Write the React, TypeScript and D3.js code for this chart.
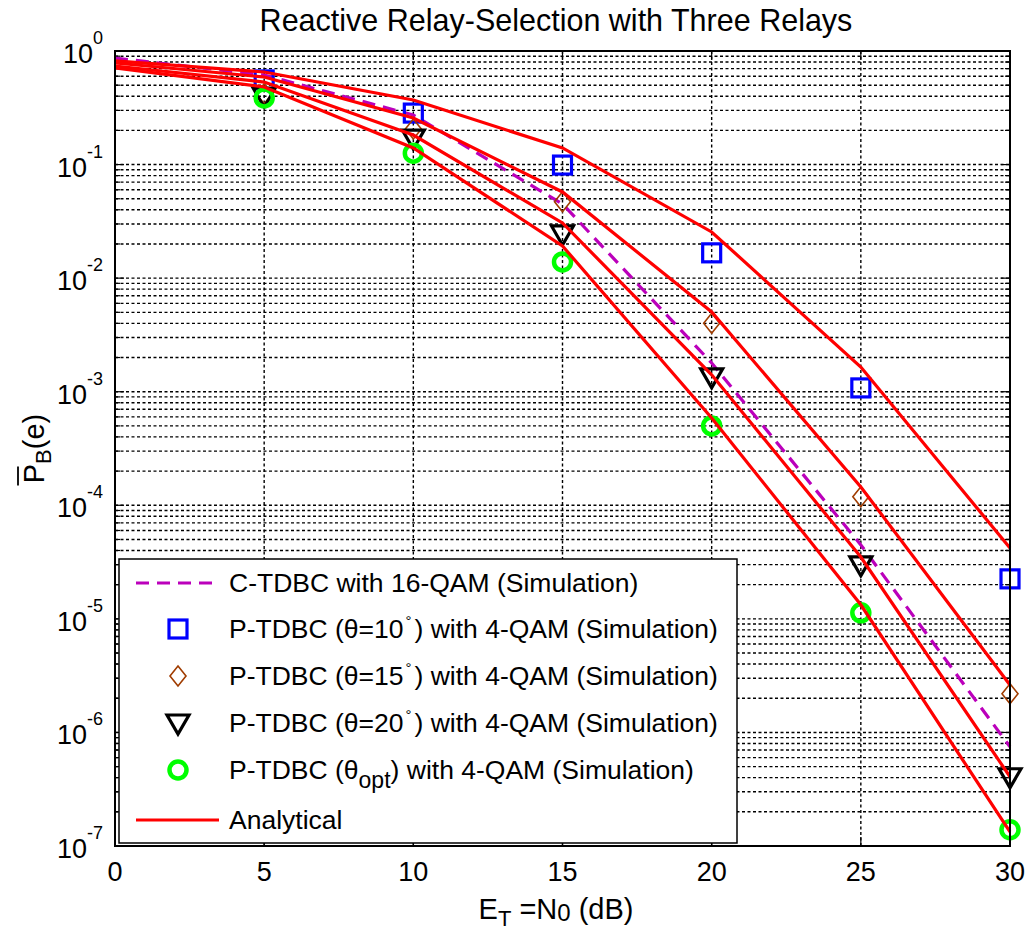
import React from 'react';
import * as d3 from 'd3';

// SNR points (dB)
const snr = [0, 5, 10, 15, 20, 25, 30];
const simSnr = [5, 10, 15, 20, 25, 30];

// C-TDBC 16-QAM simulation (dashed)
const ctdbc16 = [0.867, 0.615, 0.273, 0.045, 1.79e-3, 4.48e-5, 7.47e-7];

// P-TDBC 4-QAM simulation markers
const sim10 = [0.556, 0.284, 0.099, 0.0167, 1.08e-3, 2.25e-5];
const sim15 = [0.42, 0.206, 0.047, 4.0e-3, 1.19e-4, 2.19e-6];
const sim20 = [0.40, 0.171, 0.0245, 1.35e-3, 2.99e-5, 4.07e-7];
const simOpt = [0.386, 0.126, 0.0139, 5.0e-4, 1.13e-5, 1.39e-7];

// analytical curves
const ana10 = [0.817, 0.653, 0.37, 0.14, 0.0255, 1.65e-3, 4.2e-5];
const ana15 = [0.784, 0.59, 0.257, 0.0574, 5.04e-3, 1.45e-4, 2.62e-6];
const ana20 = [0.738, 0.533, 0.182, 0.0306, 1.41e-3, 3.5e-5, 4.07e-7];
const anaOpt = [0.709, 0.482, 0.14, 0.0192, 5.88e-4, 1.33e-5, 1.33e-7];

const xTicks = [0, 5, 10, 15, 20, 25, 30];
const yExps = [0, -1, -2, -3, -4, -5, -6, -7];

const W = 1027;
const H = 931;
const margin = { left: 115, right: 17, top: 51, bottom: 85 };
const FONT = 'Arial, "Liberation Sans", Helvetica, sans-serif';

const App = () => {
  const x = d3.scaleLinear().domain([0, 30]).range([margin.left, W - margin.right]);
  const y = d3.scaleLog().domain([1e-7, 1]).range([H - margin.bottom, margin.top]);
  const [x0, x1] = x.range();
  const [y0, y1] = y.range();

  const line = d3
    .line<number>()
    .x((_, i) => x(snr[i]))
    .y((d) => y(d));

  // minor + major horizontal grid values
  const gridY: number[] = [];
  for (let k = -7; k < 0; k++) {
    for (let m = 1; m <= 9; m++) gridY.push(m * Math.pow(10, k));
  }
  gridY.push(1);

  const red = '#ff0000';
  const blue = '#0000ff';
  const brown = '#a03c00';
  const green = '#00ff00';
  const magenta = '#bb00bb';

  const square = (cx: number, cy: number, key: any) => (
    <rect key={key} x={cx - 9} y={cy - 9} width={18} height={18} fill="none" stroke={blue} strokeWidth={3.2} />
  );
  const diamond = (cx: number, cy: number, key: any) => (
    <path key={key} d={`M${cx},${cy - 10}L${cx + 8},${cy}L${cx},${cy + 10}L${cx - 8},${cy}Z`} fill="none" stroke={brown} strokeWidth={1.6} />
  );
  const triangle = (cx: number, cy: number, key: any) => (
    <path key={key} d={`M${cx - 11},${cy - 8}L${cx + 11},${cy - 8}L${cx},${cy + 11}Z`} fill="none" stroke="#000" strokeWidth={3.2} strokeLinejoin="miter" />
  );
  const circle = (cx: number, cy: number, key: any) => (
    <circle key={key} cx={cx} cy={cy} r={8.5} fill="none" stroke={green} strokeWidth={4.5} />
  );

  const deg = (
    <>
      <tspan dx={2} dy={-12} fontSize={15}>°</tspan>
      <tspan dx={3} dy={12}>) with 4-QAM (Simulation)</tspan>
    </>
  );
  const legendItems = [
    { kind: 'dash', label: <>C-TDBC with 16-QAM (Simulation)</> },
    { kind: 'square', label: <>P-TDBC (θ=10{deg}</> },
    { kind: 'diamond', label: <>P-TDBC (θ=15{deg}</> },
    { kind: 'triangle', label: <>P-TDBC (θ=20{deg}</> },
    { kind: 'circle', label: <>P-TDBC (θ<tspan dy={9} fontSize={23}>opt</tspan><tspan dy={-9}>) with 4-QAM (Simulation)</tspan></> },
    { kind: 'line', label: <>Analytical</> },
  ];
  const legY = [583, 629, 676, 723, 770, 820];

  return (
    <svg width={W} height={H} style={{ position: 'absolute', left: 0, top: 0, background: '#fff' }} fontFamily={FONT}>
      <rect x={0} y={0} width={W} height={H} fill="#fff" />

      {/* grid */}
      <g stroke="#000" strokeWidth={1.4} strokeDasharray="3,2.5">
        {gridY.map((v, i) => (
          <line key={'gy' + i} x1={x0} x2={x1} y1={y(v)} y2={y(v)} />
        ))}
        {xTicks.slice(1, -1).map((t) => (
          <line key={'gx' + t} x1={x(t)} x2={x(t)} y1={y0} y2={y1} />
        ))}
      </g>

      {/* ticks */}
      <g stroke="#000" strokeWidth={1.2}>
        {gridY.map((v, i) => {
          const major = Math.abs(Math.log10(v) - Math.round(Math.log10(v))) < 1e-9;
          const len = major ? 9 : 5;
          return (
            <g key={'ty' + i}>
              <line x1={x0} x2={x0 + len} y1={y(v)} y2={y(v)} />
              <line x1={x1} x2={x1 - len} y1={y(v)} y2={y(v)} />
            </g>
          );
        })}
        {xTicks.map((t) => (
          <g key={'tx' + t}>
            <line x1={x(t)} x2={x(t)} y1={y0} y2={y0 - 9} />
            <line x1={x(t)} x2={x(t)} y1={y1} y2={y1 + 9} />
          </g>
        ))}
      </g>

      {/* C-TDBC dashed */}
      <path d={line(ctdbc16) || ''} fill="none" stroke={magenta} strokeWidth={3.2} strokeDasharray="13,8" />

      {/* markers */}
      <g>
        {sim10.map((v, i) => square(x(simSnr[i]), y(v), 's' + i))}
        {sim15.map((v, i) => diamond(x(simSnr[i]), y(v), 'd' + i))}
        {sim20.map((v, i) => triangle(x(simSnr[i]), y(v), 't' + i))}
        {simOpt.map((v, i) => circle(x(simSnr[i]), y(v), 'c' + i))}
      </g>

      {/* analytical */}
      <g fill="none" stroke={red} strokeWidth={3.2}>
        {[ana10, ana15, ana20, anaOpt].map((s, i) => (
          <path key={'a' + i} d={line(s) || ''} />
        ))}
      </g>

      {/* axes box */}
      <rect x={x0} y={y1} width={x1 - x0} height={y0 - y1} fill="none" stroke="#000" strokeWidth={2} />

      {/* x tick labels */}
      <g fontSize={27} textAnchor="middle" fill="#000">
        {xTicks.map((t) => (
          <text key={'lx' + t} x={x(t)} y={y0 + 35}>
            {t}
          </text>
        ))}
      </g>

      {/* y tick labels */}
      <g fill="#000">
        {yExps.map((e) => (
          <text key={'ly' + e} x={x0 - 12} y={y(Math.pow(10, e)) + 12} fontSize={27} textAnchor="end">
            10
            <tspan dy={-19} fontSize={18}>
              {e}
            </tspan>
          </text>
        ))}
      </g>

      {/* title */}
      <text x={556} y={31} fontSize={30.5} textAnchor="middle" fill="#000">
        Reactive Relay-Selection with Three Relays
      </text>

      {/* x label */}
      <text x={556} y={919} fontSize={29} textAnchor="middle" fill="#000">
        E<tspan dy={7} fontSize={22}>T</tspan>
        <tspan dy={-7}> =N</tspan>
        <tspan dy={2} fontSize={24}>0</tspan>
        <tspan dy={-2}> (dB)</tspan>
      </text>

      {/* y label */}
      <g transform={`translate(44,${(y0 + y1) / 2}) rotate(-90)`}>
        <text x={0} y={0} fontSize={29} textAnchor="middle" fill="#000">
          P<tspan dy={7} fontSize={22}>B</tspan>
          <tspan dy={-7}>(e)</tspan>
        </text>
        <line x1={-37} x2={-18} y1={-26} y2={-26} stroke="#000" strokeWidth={1.8} />
      </g>

      {/* legend */}
      <g>
        <rect x={119} y={559} width={618} height={284} fill="#fff" stroke="#000" strokeWidth={1.5} />
        {legendItems.map((it, i) => {
          const ly = legY[i];
          let sym: React.ReactNode = null;
          if (it.kind === 'dash')
            sym = <line x1={136} x2={219} y1={ly} y2={ly} stroke={magenta} strokeWidth={3.2} strokeDasharray="13,8" />;
          else if (it.kind === 'line')
            sym = <line x1={136} x2={219} y1={ly} y2={ly} stroke={red} strokeWidth={3.2} />;
          else if (it.kind === 'square') sym = square(178, ly, 'ls');
          else if (it.kind === 'diamond') sym = diamond(178, ly, 'ld');
          else if (it.kind === 'triangle') sym = triangle(178, ly, 'lt');
          else if (it.kind === 'circle') sym = circle(178, ly, 'lc');
          return (
            <g key={'leg' + i}>
              {sym}
              <text x={229} y={ly + 9} fontSize={26.5} fill="#000">
                {it.label}
              </text>
            </g>
          );
        })}
      </g>
    </svg>
  );
};

export default App;
